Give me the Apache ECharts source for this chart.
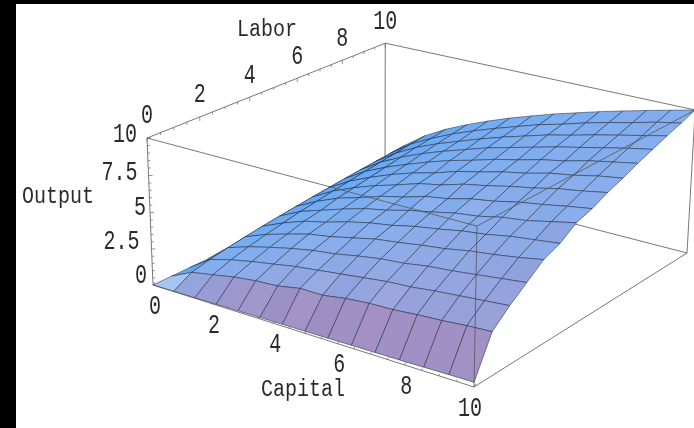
<!DOCTYPE html>
<html>
<head>
<meta charset="utf-8">
<style>html,body{margin:0;padding:0;background:#000}#chart{width:694px;height:428px}</style>
<script src="https://cdn.jsdelivr.net/npm/echarts@6/dist/echarts.min.js"></script>
</head>
<body>
<div id="chart"></div>
<script>
// mesh levels, 15 per side
var capitalLevels = [0, 0.71, 1.43, 2.14, 2.86, 3.57, 4.29, 5, 5.71, 6.43, 7.14, 7.86, 8.57, 9.29, 10];
var laborLevels = [0, 0.71, 1.43, 2.14, 2.86, 3.57, 4.29, 5, 5.71, 6.43, 7.14, 7.86, 8.57, 9.29, 10];
// output, one row per labor level, one column per capital level
var output = [
  [0, 0.02, 0.04, 0.06, 0.08, 0.1, 0.12, 0.14, 0.16, 0.18, 0.2, 0.22, 0.25, 0.28, 0.3],
  [0, 0.72, 1, 1.3, 1.5, 1.6, 1.9, 1.9, 2.15, 2.3, 2.35, 2.5, 2.6, 2.75, 2.85],
  [0, 1.01, 1.43, 1.75, 2.02, 2.3, 2.5, 2.7, 2.9, 3.1, 3.2, 3.4, 3.55, 3.7, 3.85],
  [0, 1.24, 1.75, 2.14, 2.5, 2.8, 3, 3.3, 3.55, 3.7, 3.95, 4.1, 4.3, 4.5, 4.7],
  [0, 1.43, 2.02, 2.47, 2.9, 3.15, 3.5, 3.85, 4.05, 4.3, 4.5, 4.8, 5, 5.25, 5.55],
  [0, 1.6, 2.26, 2.8, 3.15, 3.6, 3.95, 4.2, 4.55, 4.8, 5.1, 5.3, 5.6, 5.8, 6],
  [0, 1.75, 2.5, 3, 3.5, 3.95, 4.25, 4.65, 4.95, 5.3, 5.5, 5.85, 6.05, 6.4, 6.75],
  [0, 1.89, 2.67, 3.3, 3.75, 4.25, 4.6, 5.05, 5.3, 5.7, 5.95, 6.3, 6.55, 6.85, 7.1],
  [0, 2.02, 2.86, 3.5, 4.05, 4.5, 5, 5.3, 5.75, 6.05, 6.4, 6.7, 7.05, 7.3, 7.6],
  [0, 2.14, 3.03, 3.7, 4.3, 4.8, 5.2, 5.7, 6.05, 6.45, 6.75, 7.15, 7.4, 7.75, 8],
  [0, 2.26, 3.2, 3.9, 4.5, 5.05, 5.55, 5.95, 6.4, 6.75, 7.15, 7.45, 7.85, 8.15, 8.45],
  [0, 2.37, 3.35, 4.1, 4.75, 5.3, 5.8, 6.3, 6.7, 7.1, 7.5, 7.85, 8.2, 8.55, 8.85],
  [0, 2.47, 3.5, 4.3, 4.95, 5.5, 6.05, 6.55, 7, 7.45, 7.8, 8.2, 8.55, 8.9, 9.25],
  [0, 2.57, 3.65, 4.45, 5.15, 5.75, 6.3, 6.8, 7.3, 7.7, 8.15, 8.55, 8.9, 9.3, 9.6],
  [0, 2.67, 3.78, 4.63, 5.34, 5.97, 6.55, 7.07, 7.56, 8.01, 8.45, 8.86, 9.25, 9.63, 10]
];
var capitalTicks = [0, 2, 4, 6, 8, 10];
var laborTicks = [0, 2, 4, 6, 8, 10];
var outputTicks = [0, 2.5, 5, 7.5, 10];
var capitalLabelDx = [2, 2, 2, 2, 2, -4];
var outputLabelDx = [-6, -12, -4, -11, -10];
var outputLabelDy = [-9, -7, -5, -3, -3];

// where the box corners land on the page, [capital, labor, output] at 0 or 1
var cornerO = [153, 285], cornerK = [474, 387], cornerL = [385, 175], cornerZ = [147, 138];
var cornerKL = [687, 253], cornerKZ = [477, 226], cornerLZ = [384, 44], cornerKLZ = [694, 111];

function det3(a, b, c) {
  return a[0] * (b[1] * c[2] - b[2] * c[1]) - b[0] * (a[1] * c[2] - a[2] * c[1]) + c[0] * (a[1] * b[2] - a[2] * b[1]);
}
function solve3(a, b, c, r) {
  var d = det3(a, b, c);
  return [det3(r, b, c) / d, det3(a, r, c) / d, det3(a, b, r) / d];
}
function hom(p) { return [p[0], p[1], 1]; }
function neg(p) { return [-p[0], -p[1], -p[2]]; }

var O = hom(cornerO), U = hom(cornerK), V = hom(cornerL), W = hom(cornerZ);
var st = solve3(U, V, neg(hom(cornerKL)), O);
var sr = solve3(U, W, neg(hom(cornerKZ)), O);
function col(p, s) { return [p[0] * s - O[0], p[1] * s - O[1], p[2] * s - O[2]]; }
var colK = col(U, st[0]), colL = col(V, st[1]), colZ = col(W, sr[1]);

function project(k, l, z) {
  var u = k / 10, v = l / 10, w = z / 10, X = [0, 0, 0];
  for (var n = 0; n < 3; n++) X[n] = u * colK[n] + v * colL[n] + w * colZ[n] + O[n];
  return [X[0] / X[2], X[1] / X[2]];
}

function cellColor(i, j) {
  if (i === 0 && j === 0) return '#a5c6f0'; // the pale corner cell
  var dk = capitalLevels[i + 1] - capitalLevels[i], dl = laborLevels[j + 1] - laborLevels[j];
  var gk = (output[j][i + 1] + output[j + 1][i + 1] - output[j][i] - output[j + 1][i]) / (2 * dk);
  var gl = (output[j + 1][i] + output[j + 1][i + 1] - output[j][i] - output[j][i + 1]) / (2 * dl);
  var nk = -0.4 * gk, nl = -0.4 * gl, len = Math.sqrt(nk * nk + nl * nl + 1);
  nk /= len; nl = Math.max(nl / len, -0.72);
  var r = 155 + 137 * nk - 13 * nl, g = 202 + 68 * nk + 78 * nl, b = 259 + 22 * nk + 86 * nl;
  var deep = Math.max(0, -nk - 0.74); // crest cells go dark
  r -= 900 * deep; g -= 700 * deep; b -= 350 * deep;
  function c(v) { return Math.max(0, Math.min(255, Math.round(v))); }
  return 'rgb(' + c(r) + ',' + c(g) + ',' + c(b) + ')';
}

// mesh cells far to near
var cells = [];
for (var j = laborLevels.length - 2; j >= 0; j--) {
  for (var i = 0; i < capitalLevels.length - 1; i++) cells.push([i, j]);
}

function renderCell(params, api) {
  var i = api.value(0), j = api.value(1);
  var pts = [[i, j], [i + 1, j], [i + 1, j + 1], [i, j + 1]].map(function (q) {
    return api.coord(project(capitalLevels[q[0]], laborLevels[q[1]], output[q[1]][q[0]]));
  });
  return {
    type: 'polygon',
    shape: { points: pts },
    style: { fill: cellColor(i, j), stroke: 'rgba(30,36,56,0.8)', lineWidth: 0.65 }
  };
}

function renderSegment(params, api) {
  var a = api.coord(project(api.value(0), api.value(1), api.value(2)));
  var b = api.coord(project(api.value(3), api.value(4), api.value(5)));
  return {
    type: 'line',
    shape: { x1: a[0], y1: a[1], x2: b[0], y2: b[1] },
    style: { stroke: '#555', lineWidth: 0.8 }
  };
}

function renderTick(params, api) {
  var a = api.coord(project(api.value(0), api.value(1), api.value(2)));
  return {
    type: 'line',
    shape: { x1: a[0], y1: a[1], x2: a[0] + api.value(3), y2: a[1] + api.value(4) },
    style: { stroke: '#777', lineWidth: 0.8 }
  };
}

var backEdges = [
  [0, 0, 10, 0, 10, 10], [0, 10, 10, 10, 10, 10], [0, 10, 0, 0, 10, 10],
  [0, 10, 0, 10, 10, 0], [0, 0, 0, 0, 0, 10]
];
var frontEdges = [
  [0, 0, 10, 10, 0, 10], [10, 0, 10, 10, 10, 10], [10, 0, 0, 10, 0, 10],
  [10, 10, 0, 10, 10, 10], [10, 0, 0, 10, 10, 0], [0, 0, 0, 10, 0, 0]
];

var tickMarks = [];
for (var t = 0; t <= 10.001; t += 0.5) {
  var major = Math.abs(t % 2) < 0.01 ? 1 : 0.6;
  tickMarks.push([t, 0, 0, 2 * major, -3 * major]);
  tickMarks.push([0, t, 10, 0, 4 * major]);
}
for (var t2 = 0; t2 <= 10.001; t2 += 0.5) {
  tickMarks.push([0, 0, t2, (Math.abs(t2 % 2.5) < 0.01 ? 4 : 2.5), 0]);
}

// text: label, capital, labor, output, dx, dy, align
var labels = [];
capitalTicks.forEach(function (v, n) { labels.push([String(v), v, 0, 0, capitalLabelDx[n], 21.5, 'center']); });
laborTicks.forEach(function (v) { labels.push([String(v), 0, v, 10, 0, -22, 'center']); });
outputTicks.forEach(function (v, n) { labels.push([String(v), 0, 0, v, outputLabelDx[n], outputLabelDy[n], 'right']); });

var titles = [
  ['Capital', 303, 390], ['Labor', 267, 30], ['Output', 58, 197]
];

function renderLabel(params, api) {
  var d = labels[params.dataIndex];
  var p = api.coord(project(d[1], d[2], d[3]));
  return {
    type: 'text', x: p[0] + d[4], y: p[1] + d[5], scaleY: 1.4,
    style: { text: d[0], fontFamily: 'Liberation Mono', fontSize: 20, fill: '#2a2a2a', align: d[6], verticalAlign: 'middle' }
  };
}

function renderTitle(params, api) {
  var d = titles[params.dataIndex];
  var p = api.coord([d[1], d[2]]);
  return {
    type: 'text', x: p[0], y: p[1], scaleY: 1.15,
    style: { text: d[0], fontFamily: 'Liberation Mono', fontSize: 20, fill: '#2a2a2a', align: 'center', verticalAlign: 'middle' }
  };
}

var chart = echarts.init(document.getElementById('chart'));
chart.setOption({
  backgroundColor: '#000',
  animation: false,
  tooltip: { show: false },
  grid: { left: 16, top: 4, right: 0, bottom: 0, show: true, backgroundColor: '#fff', borderWidth: 0 },
  xAxis: { type: 'value', min: 16, max: 694, show: false },
  yAxis: { type: 'value', min: 4, max: 428, inverse: true, show: false },
  series: [
    { type: 'custom', renderItem: renderSegment, data: backEdges, silent: true, clip: false },
    { type: 'custom', renderItem: renderTick, data: tickMarks, silent: true, clip: false },
    { type: 'custom', renderItem: renderCell, data: cells, silent: true, clip: false },
    { type: 'custom', renderItem: renderSegment, data: frontEdges, silent: true, clip: false },
    { type: 'custom', renderItem: renderLabel, data: labels.map(function (d, n) { return [n]; }), silent: true, clip: false },
    { type: 'custom', renderItem: renderTitle, data: titles.map(function (d, n) { return [n]; }), silent: true, clip: false }
  ]
});
</script>
</body>
</html>
